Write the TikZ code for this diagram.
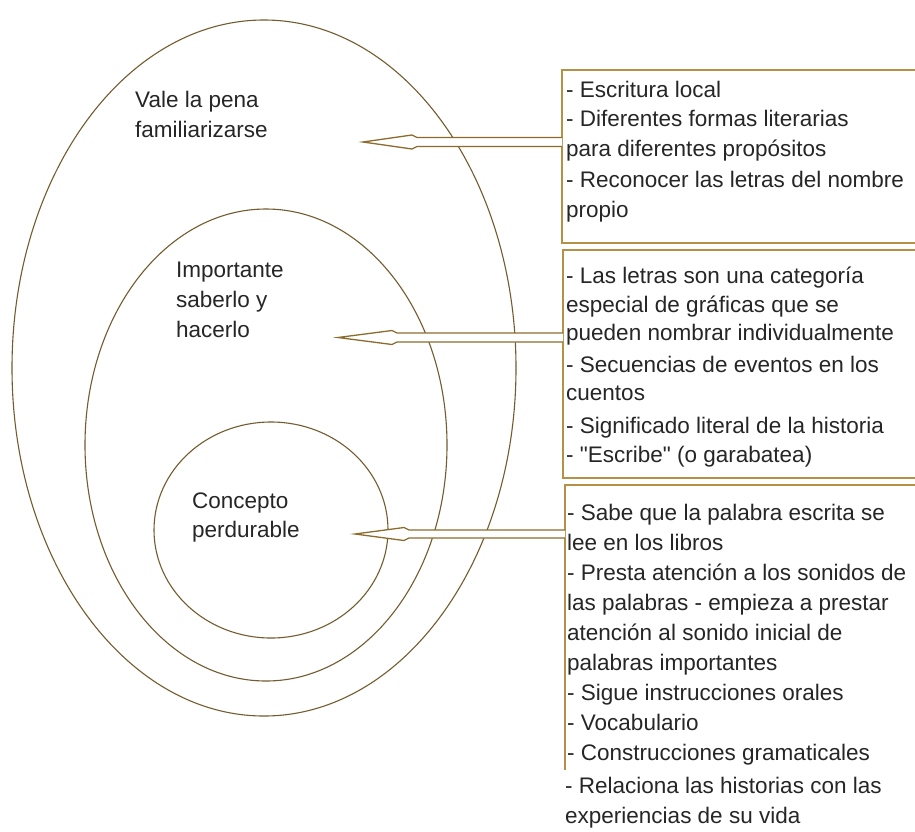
\documentclass[tikz,border=0pt]{standalone}
\usepackage{fontspec}
\setmainfont{Liberation Sans}[Ligatures=TeXOff]
\definecolor{ringc}{RGB}{115,92,48}
\definecolor{boxc}{RGB}{180,145,70}
\definecolor{arrc}{RGB}{140,108,45}
\begin{document}
\begin{tikzpicture}[x=1pt,y=-1pt,
  txt/.style={anchor=base west,inner sep=0pt,font=\fontsize{22.5}{27}\selectfont,text=black!85},
  ring/.style={draw=ringc,line width=1.1pt},
  boxline/.style={draw=boxc,line width=1.6pt},
  hollow/.style={draw=arrc,fill=white,line width=1.3pt,line join=miter}]
\useasboundingbox[fill=white] (0,0) rectangle (915,831);

% rings
\draw[ring] (264,368) ellipse [x radius=252pt, y radius=348pt];
\draw[ring] (266,445) ellipse [x radius=181pt, y radius=236pt];
\draw[ring] (271,530) ellipse [x radius=117pt, y radius=108pt];

% ring labels
\node[txt] (v1) at (135,107) {Vale la pena};
\node[txt] (v2) at (135,137) {familiarizarse};
\node[txt] (i1) at (176,277) {Importante};
\node[txt] (i2) at (176,307) {saberlo y};
\node[txt] (i3) at (176,337) {hacerlo};
\node[txt] (c1) at (192,508) {Concepto};
\node[txt] (c2) at (192,537) {perdurable};

% boxes
\coordinate (b1) at (562,70);
\coordinate (b2) at (563,250);
\coordinate (b3) at (565,485);
\draw[boxline] (915,70) -- (b1) -- (562,243) -- (915,243);
\draw[boxline] (915,250) -- (b2) -- (563,478) -- (915,478);
\draw[boxline] (915,485) -- (b3) -- (565,770);

% box 1 text
\node[txt] (a1) at (566,97) {- Escritura local};
\node[txt] (a2) at (566,126) {- Diferentes formas literarias};
\node[txt] (a3) at (566,156) {para diferentes propósitos};
\node[txt] (a4) at (566,187) {- Reconocer las letras del nombre};
\node[txt] (a5) at (566,217) {propio};

% box 2 text
\node[txt] (m1) at (566,283) {- Las letras son una categoría};
\node[txt] (m2) at (566,312) {especial de gráficas que se};
\node[txt] (m3) at (566,340) {pueden nombrar individualmente};
\node[txt] (m4) at (566,372) {- Secuencias de eventos en los};
\node[txt] (m5) at (566,400) {cuentos};
\node[txt] (m6) at (566,433) {- Significado literal de la historia};
\node[txt] (m7) at (566,462) {- "Escribe" (o garabatea)};

% box 3 text
\node[txt] (n1) at (567,520) {- Sabe que la palabra escrita se};
\node[txt] (n2) at (567,550) {lee en los libros};
\node[txt] (n3) at (567,580) {- Presta atención a los sonidos de};
\node[txt] (n4) at (567,610) {las palabras - empieza a prestar};
\node[txt] (n5) at (567,640) {atención al sonido inicial de};
\node[txt] (n6) at (567,670) {palabras importantes};
\node[txt] (n7) at (567,700) {- Sigue instrucciones orales};
\node[txt] (n8) at (567,730) {- Vocabulario};
\node[txt] (n9) at (567,760) {- Construcciones gramaticales};
\node[txt] (n10) at (565,793) {- Relaciona las historias con las};
\node[txt] (n11) at (565,823) {experiencias de su vida};

% arrows (hollow, pointing left)
\coordinate (t1) at (363,142);
\coordinate (t2) at (338,337.5);
\coordinate (t3) at (355,534);
\draw[hollow] (562,137.5) -- (417,137.5) -- (412,135) -- (t1) -- (412,149) -- (417,146.5) -- (562,146.5);
\draw[hollow] (563,333) -- (397,333) -- (392,330.5) -- (t2) -- (392,344.5) -- (397,342) -- (563,342);
\draw[hollow] (565,530) -- (409,530) -- (404,527.5) -- (t3) -- (404,540.5) -- (409,538) -- (565,538);
\end{tikzpicture}
\end{document}
